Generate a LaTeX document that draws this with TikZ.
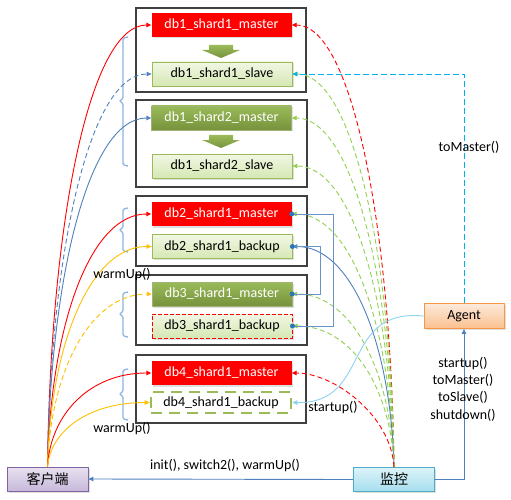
\documentclass[tikz,border=0pt]{standalone}
\usepackage{fontspec}
\setmainfont{Carlito}
\newfontfamily\cjk{Noto Sans CJK SC}
\usetikzlibrary{arrows.meta,shadows}
\definecolor{cRed}{HTML}{FF0000}
\definecolor{gTop}{HTML}{9BBB59}
\definecolor{gBot}{HTML}{76923C}
\definecolor{lgTop}{HTML}{F1F7E4}
\definecolor{lgBot}{HTML}{D6E8B4}
\definecolor{blueL}{HTML}{4F81BD}
\definecolor{dotB}{HTML}{2E75B6}
\definecolor{cyanD}{HTML}{00B0F0}
\definecolor{cyanL}{HTML}{8DD3F0}
\definecolor{yel}{HTML}{FFC000}
\definecolor{grnD}{HTML}{92D050}
\definecolor{brk}{HTML}{8EB4E3}
\definecolor{boxE}{HTML}{404040}
\definecolor{agTop}{HTML}{FDEADA}
\definecolor{agBot}{HTML}{FAC090}
\definecolor{agE}{HTML}{F79646}
\definecolor{moTop}{HTML}{DDF3F9}
\definecolor{moBot}{HTML}{A5DEED}
\definecolor{moE}{HTML}{4BACC6}
\definecolor{clTop}{HTML}{E8E2EF}
\definecolor{clBot}{HTML}{C7B8DB}
\definecolor{clE}{HTML}{8064A2}
\begin{document}
\begin{tikzpicture}[x=1pt,y=-1pt,font=\fontsize{14}{17}\selectfont,
  outer/.style={draw=boxE,line width=1.2pt,fill=white,inner sep=0pt},
  nd/.style={minimum width=140pt,minimum height=24pt,inner sep=0pt},
  shd/.style={drop shadow={opacity=0.25,shadow xshift=1.5pt,shadow yshift=-1.5pt}},
  redm/.style={nd,shd,fill=cRed,text=white},
  grnm/.style={nd,shd,top color=gTop,bottom color=gBot,draw=gBot!70,text=white},
  slv/.style={nd,shd,top color=lgTop,bottom color=lgBot,draw=gTop,line width=0.8pt},
  tip/.style={-{Triangle[length=5pt,width=4.5pt]}},
  cn/.style={tip,line width=0.9pt},
  dsh/.style={dash pattern=on 5pt off 3pt},
  brace/.style={draw=brk,line width=1.3pt,rounded corners=1.5pt},
  blk/.style={top color=gTop,bottom color=gBot},
  dotc/.style={circle,fill=dotB,minimum size=5pt,inner sep=0pt}]
\useasboundingbox (0,0) rectangle (511,500);
\fill[white] (0,0) rectangle (511,500);

% outer boxes
\node[outer,minimum width=170pt,minimum height=84pt] (box1) at (221,50) {};
\node[outer,minimum width=171pt,minimum height=87pt] (box2) at (221.5,143.5) {};
\node[outer,minimum width=171pt,minimum height=70pt] (box3) at (221.5,231) {};
\node[outer,minimum width=171pt,minimum height=70pt] (box4) at (221.5,310) {};
\node[outer,minimum width=170pt,minimum height=68pt] (box5) at (221,389) {};

% braces
\draw[brace] (128,37) -- (123,38) -- (123,99) -- (119,101) -- (123,103) -- (123,165) -- (128,166);
\draw[brace] (128,208) -- (123,209) -- (123,228) -- (119,230) -- (123,232) -- (123,251) -- (128,252);
\draw[brace] (128,292) -- (123,293) -- (123,312) -- (119,314) -- (123,316) -- (123,336) -- (128,337);
\draw[brace] (128,369) -- (123,370) -- (123,392) -- (119,394) -- (123,396) -- (123,419) -- (128,420);

% block arrows
\path[blk] (209,45) -- (233,45) -- (233,50) -- (240,50) -- (221,58) -- (202,50) -- (209,50) -- cycle;
\path[blk] (209,135) -- (233,135) -- (233,140) -- (240,140) -- (221,148) -- (202,140) -- (209,140) -- cycle;

% inner nodes
\node[redm] (m11) at (221.5,25) {db1\_shard1\_master};
\node[slv]  (s11) at (222,74) {db1\_shard1\_slave};
\node[grnm] (m12) at (221.5,118) {db1\_shard2\_master};
\node[slv]  (s12) at (222,166) {db1\_shard2\_slave};
\node[redm] (m21) at (221.5,214) {db2\_shard1\_master};
\node[slv]  (b21) at (222,246.5) {db2\_shard1\_backup};
\node[grnm] (m31) at (222,294) {db3\_shard1\_master};
\node[nd,shd,top color=lgTop,bottom color=lgBot,draw=cRed,line width=1pt,dash pattern=on 4pt off 2pt] (b31) at (222,326) {db3\_shard1\_backup};
\node[redm] (m41) at (221.5,373) {db4\_shard1\_master};
\node[nd,minimum height=21pt,fill=white,draw=gTop,line width=2.6pt,dash pattern=on 11pt off 7pt] (b41) at (221,402.5) {db4\_shard1\_backup};

% bottom nodes
\node[nd,minimum width=80pt,minimum height=25pt,top color=agTop,bottom color=agBot,draw=agE,line width=0.8pt,shd] (agent) at (464,316) {Agent};
\node[nd,minimum width=81pt,minimum height=24pt,top color=moTop,bottom color=moBot,draw=moE,line width=0.8pt,shd] (mon) at (394,479.5) {\cjk 监控};
\node[nd,minimum width=81pt,minimum height=24pt,top color=clTop,bottom color=clBot,draw=clE,line width=0.8pt,shd] (client) at (47.5,479) {\cjk 客户端};

% client curves
\draw[cn,cRed] (client.north) .. controls +(3,-243) and +(-62,0) .. (m11.west);
\draw[cn,blueL,dsh] (client.north) .. controls +(3,-216) and +(-62,0) .. (s11.west);
\draw[cn,blueL] (client.north) .. controls +(3,-192) and +(-62,0) .. (m12.west);
\draw[cn,cRed] (client.north) .. controls +(3,-139) and +(-62,0) .. (m21.west);
\draw[cn,yel] (client.north) .. controls +(3,-121) and +(-62,0) .. (b21.west);
\draw[cn,yel,dsh] (client.north) .. controls +(3,-95) and +(-62,0) .. (m31.west);
\draw[cn,cRed] (client.north) .. controls +(3,-52) and +(-62,0) .. (m41.west);
\draw[cn,yel] (client.north) .. controls +(3,-35) and +(-62,0) .. (b41.west);

% monitor curves
\draw[cn,cRed,dsh] (mon.north) .. controls +(-3,-243) and +(60,0) .. (m11.east);
\draw[cn,grnD,dsh] (mon.north) .. controls +(-3,-216) and +(60,0) .. (s11.east);
\draw[cn,grnD,dsh] (mon.north) .. controls +(-3,-192) and +(60,0) .. (m12.east);
\draw[cn,grnD,dsh] (mon.north) .. controls +(-3,-166) and +(60,0) .. (s12.east);
\draw[cn,grnD,dsh] (mon.north) .. controls +(-3,-139) and +(60,0) .. (m21.east);
\draw[cn,blueL] (mon.north) .. controls +(-3,-121) and +(60,0) .. (b21.east);
\draw[cn,grnD,dsh] (mon.north) .. controls +(-3,-95) and +(60,0) .. (m31.east);
\draw[cn,grnD,dsh] (mon.north) .. controls +(-3,-78) and +(60,0) .. (b31.east);
\draw[cn,cRed,dsh] (mon.north) .. controls +(-3,-52) and +(42,0) .. (m41.east);

% elbow links between db2 and db3
\draw[blueL!85,line width=1pt] (m21.east) -- (333,214) -- (333,326) -- (b31.east);
\draw[blueL!85,line width=1pt] (b21.east) -- (320.5,246.5) -- (320.5,294) -- (m31.east);
\node[dotc] (d1) at (m21.east) {};
\node[dotc] (d2) at (b21.east) {};
\node[dotc] (d3) at (m31.east) {};
\node[dotc] (d4) at (b31.east) {};

% agent links
\draw[cn,cyanL] (agent.west) .. controls (340,308) and (372,404) .. (b41.east);
\draw[cn,cyanD,dash pattern=on 6pt off 3pt] (agent.north) -- (464,74) -- (s11.east);
\draw[cn,blueL] (mon.east) -- (464,479.5) -- (agent.south);
\draw[cn,blueL] (mon.west) -- (client.east);

% labels
\node (l1) at (469,147) {toMaster()};
\node[align=center,font=\fontsize{14}{17.3}\selectfont] (l2) at (463,389) {startup()\\toMaster()\\toSlave()\\shutdown()};
\node (l3) at (333,408) {startup()};
\node (l4) at (225,466) {init(), switch2(), warmUp()};
\node (l5) at (122,275) {warmUp()};
\node (l6) at (122,429) {warmUp()};
\end{tikzpicture}
\end{document}
